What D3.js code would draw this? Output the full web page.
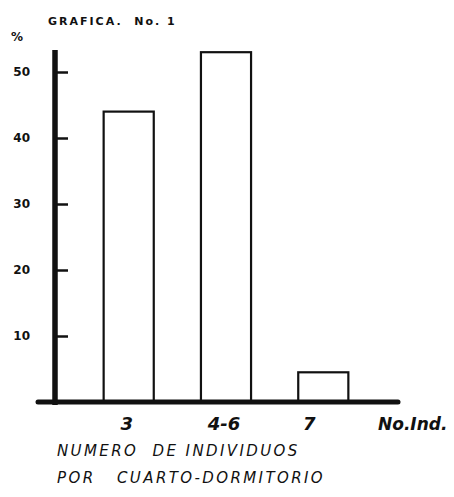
<!DOCTYPE html>
<html>
<head>
<meta charset="utf-8">
<script src="https://cdn.jsdelivr.net/npm/d3@7"></script>
<style>
  body { margin: 0; background: #fff; }
  text { fill: #111; white-space: pre; }
</style>
</head>
<body>
<svg id="chart" width="454" height="497"></svg>
<script>
// grupos de individuos por cuarto-dormitorio
const categorias = ["3", "4-6", "7"];
const porcentajes = [44, 53, 4.5];
const yTicks = [10, 20, 30, 40, 50];

const svg = d3.select("#chart");

const x = d3.scaleBand()
  .domain(categorias)
  .range([55, 397])
  .paddingInner(0.485)
  .paddingOuter(0.5);

const y = d3.scaleLinear()
  .domain([0, 50])
  .range([402, 72]);

// titulo
svg.append("text")
  .attr("x", 48).attr("y", 25)
  .style("font-family", "DejaVu Sans")
  .style("font-weight", "bold")
  .style("font-size", "11px")
  .style("letter-spacing", "2px")
  .text("GRAFICA.  No. 1");

svg.append("text")
  .attr("x", 11).attr("y", 41)
  .style("font-family", "DejaVu Sans")
  .style("font-weight", "bold")
  .style("font-size", "12px")
  .text("%");

// barras
svg.selectAll(".bar")
  .data(porcentajes)
  .enter().append("rect")
  .attr("class", "bar")
  .attr("x", (d, i) => x(categorias[i]))
  .attr("y", d => y(d))
  .attr("width", x.bandwidth())
  .attr("height", d => y(0) - y(d))
  .attr("fill", "#fff")
  .attr("stroke", "#111")
  .attr("stroke-width", 2.2);

// eje y
const yAxis = d3.axisLeft(y)
  .tickValues(yTicks)
  .tickSize(-13)
  .tickPadding(25);

const gy = svg.append("g")
  .attr("transform", "translate(55,0)")
  .call(yAxis);
gy.select(".domain").remove();
gy.selectAll(".tick line").attr("stroke", "#111").attr("stroke-width", 2.5);
gy.selectAll(".tick text")
  .style("font-family", "DejaVu Sans")
  .style("font-weight", "bold")
  .style("font-size", "12px")
  .attr("fill", "#111");

svg.append("line")
  .attr("x1", 55).attr("x2", 55)
  .attr("y1", 50).attr("y2", 405)
  .attr("stroke", "#111").attr("stroke-width", 5.5);

// eje x
svg.append("line")
  .attr("x1", 38).attr("x2", 398)
  .attr("y1", y(0)).attr("y2", y(0))
  .attr("stroke", "#111").attr("stroke-width", 5)
  .attr("stroke-linecap", "round");

svg.selectAll(".xlab")
  .data(categorias)
  .enter().append("text")
  .attr("class", "xlab")
  .attr("x", (d, i) => x(d) + x.bandwidth() / 2 - (i === 2 ? 14 : 2))
  .attr("y", 430)
  .attr("text-anchor", "middle")
  .style("font-family", "DejaVu Sans")
  .style("font-weight", "bold")
  .style("font-style", "italic")
  .style("font-size", "18px")
  .text(d => d);

svg.append("text")
  .attr("x", 378).attr("y", 430)
  .style("font-family", "DejaVu Sans")
  .style("font-weight", "bold")
  .style("font-style", "italic")
  .style("font-size", "17px")
  .text("No.Ind.");

// leyenda inferior
const pie = ["NUMERO  DE INDIVIDUOS", "POR   CUARTO-DORMITORIO"];
svg.selectAll(".pie")
  .data(pie)
  .enter().append("text")
  .attr("class", "pie")
  .attr("x", 57)
  .attr("y", (d, i) => 456 + i * 27)
  .style("font-family", "DejaVu Sans")
  .style("font-style", "italic")
  .style("font-size", "15px")
  .style("letter-spacing", "2.4px")
  .text(d => d);
</script>
</body>
</html>
